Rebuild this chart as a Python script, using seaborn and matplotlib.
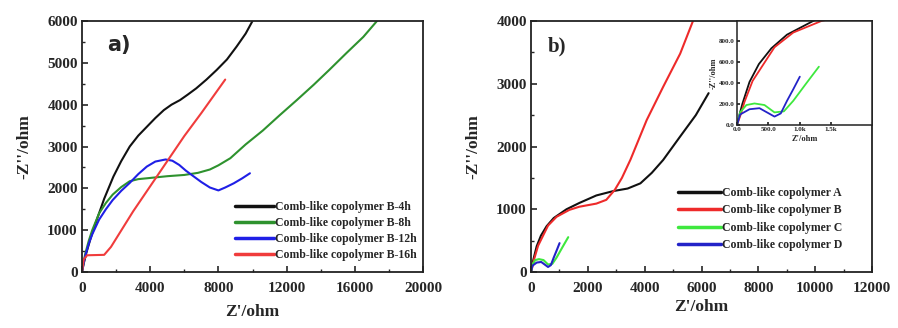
import numpy as np
import pandas as pd
import matplotlib
matplotlib.use("Agg")
import matplotlib.pyplot as plt
from matplotlib.ticker import MultipleLocator, FixedLocator
import seaborn as sns

# ---------------- data: panel a ----------------
labels_a = ["Comb-like copolymer B-4h", "Comb-like copolymer B-8h",
            "Comb-like copolymer B-12h", "Comb-like copolymer B-16h"]
b4h_x = [0, 100, 250, 500, 860, 1300, 1840, 2300, 2800, 3300, 3800, 4300, 4800, 5250, 5750,
         6200, 6700, 7300, 7900, 8500, 9070, 9600, 10000]
b4h_y = [0, 200, 450, 800, 1240, 1750, 2280, 2650, 3000, 3260, 3470, 3680, 3870, 4000, 4110,
         4240, 4390, 4600, 4830, 5080, 5390, 5700, 6000]
b8h_x = [0, 100, 200, 400, 600, 1000, 1400, 1800, 2300, 2800, 3300, 3800, 5000, 6000, 6800,
         7500, 8000, 8700, 9600, 10600, 11600, 12600, 13600, 14500, 15500, 16500, 17300]
b8h_y = [0, 250, 450, 750, 1000, 1400, 1650, 1850, 2030, 2170, 2220, 2240, 2290, 2320, 2370,
         2450, 2550, 2720, 3050, 3380, 3750, 4110, 4480, 4830, 5230, 5620, 6000]
b12h_x = [0, 100, 200, 400, 600, 1000, 1400, 1800, 2300, 2800, 3300, 3800, 4300, 4900, 5300,
          5700, 6100, 6500, 7000, 7500, 8000, 8400, 8900, 9400, 9850]
b12h_y = [0, 220, 400, 680, 900, 1250, 1500, 1720, 1940, 2130, 2340, 2520, 2640, 2690, 2660,
          2560, 2420, 2300, 2150, 2020, 1950, 2020, 2120, 2240, 2360]
b16h_x = [0, 100, 300, 1300, 1700, 3000, 4000, 5000, 6000, 7000, 8400]
b16h_y = [0, 300, 400, 410, 600, 1450, 2050, 2650, 3250, 3800, 4600]
colors_a = ["#111111", "#2e922e", "#1f1fe6", "#f03c3c"]

# ---------------- data: panel b ----------------
labels_b = ["Comb-like copolymer A", "Comb-like copolymer B",
            "Comb-like copolymer C", "Comb-like copolymer D"]
cA_x = [0, 40, 85, 200, 350, 550, 800, 1250, 1700, 2300, 2900, 3400, 3850, 4250, 4650, 5250, 5800, 6250]
cA_y = [0, 100, 200, 410, 580, 730, 860, 1000, 1100, 1220, 1290, 1330, 1413, 1580, 1785, 2160, 2500, 2850]
cB_x = [0, 60, 120, 250, 600, 900, 1350, 1700, 2300, 2650, 2950, 3200, 3500, 4070, 4650, 5250, 5700]
cB_y = [0, 100, 220, 420, 740, 880, 990, 1040, 1090, 1150, 1310, 1500, 1790, 2420, 2950, 3480, 4000]
cC_x = [0, 50, 150, 280, 440, 600, 750, 900, 1100, 1310]
cC_y = [0, 120, 190, 205, 190, 120, 130, 230, 390, 555]
cD_x = [0, 50, 200, 360, 480, 600, 700, 800, 900, 1005]
cD_y = [0, 100, 150, 160, 120, 80, 110, 230, 340, 460]
colors_b = ["#111111", "#ee2a2a", "#3ee83e", "#2323c8"]

inset_xticks = [0, 500, 1000, 1500]
inset_xticklabels = ["0.0", "500.0", "1.0k", "1.5k"]
inset_yticks = [0, 200, 400, 600, 800]
inset_yticklabels = ["0.0", "200.0", "400.0", "600.0", "800.0"]


def long_df(xs, ys, labels):
    frames = []
    for x, y, lab in zip(xs, ys, labels):
        frames.append(pd.DataFrame({"x": x, "y": y, "series": lab}))
    return pd.concat(frames, ignore_index=True)


df_a = long_df([b4h_x, b8h_x, b12h_x, b16h_x], [b4h_y, b8h_y, b12h_y, b16h_y], labels_a)
df_b = long_df([cA_x, cB_x, cC_x, cD_x], [cA_y, cB_y, cC_y, cD_y], labels_b)

sns.set_theme(style="ticks")
plt.rcParams["font.family"] = ["Liberation Serif", "DejaVu Serif"]
plt.rcParams["font.weight"] = "bold"
plt.rcParams["axes.linewidth"] = 1.3
plt.rcParams["lines.solid_joinstyle"] = "round"

fig = plt.figure(figsize=(8.98, 3.28), dpi=100)
ax_a = fig.add_axes([82 / 898, 1 - 272 / 328, 341 / 898, 251 / 328])
ax_b = fig.add_axes([531 / 898, 1 - 272 / 328, 341 / 898, 251 / 328])

sns.lineplot(data=df_a, x="x", y="y", hue="series", hue_order=labels_a,
             palette=colors_a, sort=False, estimator=None, lw=1.5, ax=ax_a)
sns.lineplot(data=df_b, x="x", y="y", hue="series", hue_order=labels_b,
             palette=colors_b, sort=False, estimator=None, lw=1.5, ax=ax_b)


def style_main(ax, xmax, ymax, xmaj, xmin_, label, lx, xlabpad):
    ax.set_xlim(0, xmax)
    ax.set_ylim(0, ymax)
    ax.xaxis.set_major_locator(MultipleLocator(xmaj))
    ax.xaxis.set_minor_locator(MultipleLocator(xmin_))
    ax.yaxis.set_major_locator(MultipleLocator(1000))
    ax.yaxis.set_minor_locator(MultipleLocator(500))
    ax.tick_params(which="both", direction="in", top=False, right=False)
    ax.tick_params(which="major", length=4, width=1.2, labelsize=11)
    ax.tick_params(axis="x", which="major", pad=7)
    ax.tick_params(axis="y", which="major", pad=3)
    ax.tick_params(which="minor", length=2, width=1.0)
    for lab in ax.get_xticklabels() + ax.get_yticklabels():
        lab.set_fontweight("bold")
    ax.set_xlabel("Z'/ohm", fontsize=12.5, fontweight="bold", labelpad=xlabpad)
    ax.set_ylabel("-Z''/ohm", fontsize=12.5, fontweight="bold", labelpad=11)
    ax.text(lx, 0.88, label, transform=ax.transAxes, fontsize=15, fontweight="bold",
            family=["DejaVu Sans"] if label == "a)" else ["Liberation Serif"])
    for s in ax.spines.values():
        s.set_color("#222222")


style_main(ax_a, 20000, 6000, 4000, 2000, "a)", 0.075, 7)
style_main(ax_b, 12000, 4000, 2000, 1000, "b)", 0.05, 3)

leg_a = ax_a.legend(loc="lower right", bbox_to_anchor=(1.0, 0.02), frameon=False,
                    prop={"size": 8.5, "weight": "bold"}, handlelength=3.3,
                    handletextpad=0.1, labelspacing=0.35, borderaxespad=0.1)
leg_b = ax_b.legend(loc="lower right", bbox_to_anchor=(0.93, 0.06), frameon=False,
                    prop={"size": 8.5, "weight": "bold"}, handlelength=3.6,
                    handletextpad=0.1, labelspacing=0.45, borderaxespad=0.1)
for leg in (leg_a, leg_b):
    for line in leg.get_lines():
        line.set_linewidth(2.5)

# ---------------- inset ----------------
ax_in = fig.add_axes([737 / 898, 1 - 125 / 328, 135 / 898, 104 / 328])
sns.lineplot(data=df_b, x="x", y="y", hue="series", hue_order=labels_b,
             palette=colors_b, sort=False, estimator=None, lw=1.3, ax=ax_in, legend=False)
ax_in.set_xlim(0, 2160)
ax_in.set_ylim(0, 990)
ax_in.xaxis.set_major_locator(FixedLocator(inset_xticks))
ax_in.set_xticklabels(inset_xticklabels)
ax_in.yaxis.set_major_locator(FixedLocator(inset_yticks))
ax_in.set_yticklabels(inset_yticklabels)
ax_in.tick_params(which="both", direction="in", labelsize=5, length=2, pad=1.5)
ax_in.set_xlabel("Z'/ohm", fontsize=6, fontweight="bold", labelpad=2)
ax_in.set_ylabel("-Z''/ohm", fontsize=6, fontweight="bold", labelpad=1)
for s in ax_in.spines.values():
    s.set_linewidth(1.1)
    s.set_color("#222222")

fig.savefig("out.png", dpi=100)
